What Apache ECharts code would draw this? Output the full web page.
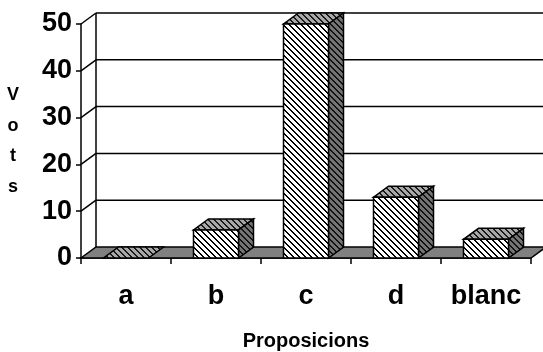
<!DOCTYPE html>
<html>
<head>
<meta charset="utf-8">
<script src="https://cdn.jsdelivr.net/npm/echarts@6/dist/echarts.min.js"></script>
<style>
  html, body { margin: 0; padding: 0; background: #fff; }
  #chart { width: 543px; height: 352px; }
</style>
</head>
<body>
<div id="chart"></div>
<script>
// Vote counts per proposition
const categories = ['a', 'b', 'c', 'd', 'blanc'];
const votes = [0, 6, 50, 13, 4];
const yTicks = [0, 10, 20, 30, 40, 50];

// Pseudo-3D depth offset of the bars and walls (pixels)
const DX = 15;
const DY = -11;
const FONT = '"Liberation Sans", Arial, sans-serif';

// Diagonal hatch tile: stripes running from top-left to bottom-right
function makeHatch(bg, fg, period, thick) {
  const n = period * 4;
  const c = document.createElement('canvas');
  c.width = n; c.height = n;
  const ctx = c.getContext('2d');
  const img = ctx.createImageData(n, n);
  const parse = (hex) => [parseInt(hex.slice(1, 3), 16), parseInt(hex.slice(3, 5), 16), parseInt(hex.slice(5, 7), 16)];
  const b = parse(bg), f = parse(fg);
  for (let y = 0; y < n; y++) {
    for (let x = 0; x < n; x++) {
      const k = (((x - y) % period) + period) % period;
      const col = k < thick ? f : b;
      const i = (y * n + x) * 4;
      img.data[i] = col[0]; img.data[i + 1] = col[1]; img.data[i + 2] = col[2]; img.data[i + 3] = 255;
    }
  }
  ctx.putImageData(img, 0, 0);
  return { image: c, repeat: 'repeat' };
}

const frontFill = makeHatch('#ffffff', '#000000', 6, 2);
const topFill = makeHatch('#a8a8a8', '#1a1a1a', 6, 2);
const sideFill = makeHatch('#737373', '#111111', 6, 2);

const edge = { stroke: '#000', lineWidth: 1.5 };

// Left side wall, back wall gridlines and floor
function renderWalls(params, api) {
  const cs = params.coordSys;
  const xL = cs.x, xR = cs.x + cs.width;
  const v = api.value(1);
  const y = api.coord([0, v])[1];
  const children = [];
  if (v === yTicks[0]) {
    const yTop = api.coord([0, yTicks[yTicks.length - 1]])[1];
    children.push({
      type: 'line',
      shape: { x1: xL + DX, y1: y + DY, x2: xL + DX, y2: yTop + DY },
      style: edge
    });
    children.push({
      type: 'polygon',
      shape: { points: [[xL, y], [xR, y], [xR + DX, y + DY], [xL + DX, y + DY]] },
      style: { fill: '#808080', stroke: '#000', lineWidth: 1.5 }
    });
  } else {
    children.push({
      type: 'line',
      shape: { x1: xL, y1: y, x2: xL + DX, y2: y + DY },
      style: edge
    });
    children.push({
      type: 'line',
      shape: { x1: xL + DX, y1: y + DY, x2: xR + DX + 20, y2: y + DY },
      style: edge
    });
  }
  return { type: 'group', children: children };
}

// Hatched box per category: front face, top face and right side face
function renderBar(params, api) {
  const idx = api.value(0);
  const val = api.value(1);
  const top = api.coord([idx, val]);
  const base = api.coord([idx, 0]);
  const w = api.size([1, 0])[0] * 0.5;
  const x0 = top[0] - w / 2, x1 = top[0] + w / 2;
  const yT = top[1], yB = base[1];
  const children = [{
    type: 'polygon',
    shape: { points: [[x0, yT], [x1, yT], [x1 + DX, yT + DY], [x0 + DX, yT + DY]] },
    style: Object.assign({ fill: topFill }, edge)
  }];
  if (yB - yT > 0.5) {
    children.push({
      type: 'polygon',
      shape: { points: [[x1, yT], [x1 + DX, yT + DY], [x1 + DX, yB + DY], [x1, yB]] },
      style: Object.assign({ fill: sideFill }, edge)
    });
    children.push({
      type: 'rect',
      shape: { x: x0, y: yT, width: w, height: yB - yT },
      style: Object.assign({ fill: frontFill }, edge)
    });
  }
  return { type: 'group', children: children };
}

const chart = echarts.init(document.getElementById('chart'), null, { renderer: 'canvas' });
chart.setOption({
  animation: false,
  backgroundColor: '#ffffff',
  grid: { left: 81, right: 12, top: 24, bottom: 94, containLabel: false, outerBoundsMode: 'none' },
  xAxis: {
    type: 'category',
    data: categories,
    boundaryGap: true,
    name: 'Proposicions',
    nameLocation: 'middle',
    nameGap: 73,
    nameTextStyle: { fontFamily: FONT, fontWeight: 'bold', fontSize: 20, color: '#000' },
    axisLine: { show: true, lineStyle: { color: '#000', width: 1.5 } },
    axisTick: { show: true, length: 6, interval: 0, lineStyle: { color: '#000', width: 1.5 } },
    axisLabel: {
      interval: 0, hideOverlap: false, margin: 25,
      fontFamily: FONT, fontWeight: 'bold', fontSize: 27, color: '#000'
    },
    splitLine: { show: false }
  },
  yAxis: {
    type: 'value',
    min: 0,
    max: 50,
    interval: 10,
    name: 'V\no\nt\ns',
    nameLocation: 'middle',
    nameRotate: 0,
    nameGap: 68,
    nameTextStyle: { fontFamily: FONT, fontWeight: 'bold', fontSize: 18, lineHeight: 30.5, color: '#000', align: 'center' },
    axisLine: { show: true, lineStyle: { color: '#000', width: 1.5 } },
    axisTick: { show: true, length: 5, lineStyle: { color: '#000', width: 1.5 } },
    axisLabel: { margin: 9, fontFamily: FONT, fontWeight: 'bold', fontSize: 27, color: '#000' },
    splitLine: { show: false }
  },
  series: [
    {
      type: 'custom',
      z: 1,
      clip: false,
      renderItem: renderWalls,
      encode: { x: 0, y: 1 },
      data: yTicks.map(v => [0, v]),
      silent: true
    },
    {
      type: 'custom',
      z: 3,
      clip: false,
      renderItem: renderBar,
      encode: { x: 0, y: 1 },
      data: votes.map((v, i) => [i, v])
    }
  ]
});
</script>
</body>
</html>
